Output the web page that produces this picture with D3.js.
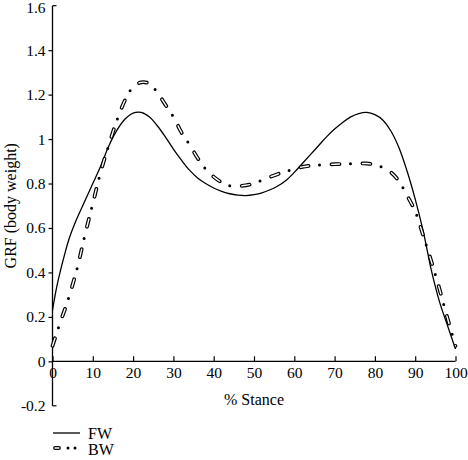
<!DOCTYPE html>
<html>
<head>
<meta charset="utf-8">
<script src="https://cdn.jsdelivr.net/npm/d3@7"></script>
<style>
  body { margin: 0; background: #fff; }
  svg { display: block; }
  text { font-family: "Liberation Serif", "DejaVu Serif", serif; fill: #000; }
</style>
</head>
<body>
<svg id="chart" width="468" height="460"></svg>
<script>
// % stance positions shared by both series
const stance = [0, 1, 2, 3, 4, 6, 8, 10, 12, 14, 16, 18, 20, 22, 24, 26, 28, 30,
  32, 34, 36, 38, 40, 42, 44, 46, 48, 50, 52, 54, 56, 58, 60, 62, 64, 66, 68,
  70, 72, 74, 76, 78, 80, 82, 84, 86, 88, 90, 92, 94, 96, 98, 100];

// forward walking
const fw = [0.23, 0.33, 0.41, 0.48, 0.545, 0.64, 0.72, 0.80, 0.88, 0.97, 1.04,
  1.09, 1.117, 1.12, 1.10, 1.06, 1.01, 0.955, 0.905, 0.86, 0.825, 0.80, 0.78,
  0.765, 0.754, 0.748, 0.746, 0.75, 0.758, 0.772, 0.79, 0.815, 0.85, 0.89,
  0.93, 0.97, 1.01, 1.045, 1.075, 1.10, 1.115, 1.12, 1.11, 1.085, 1.035, 0.96,
  0.855, 0.73, 0.585, 0.41, 0.27, 0.162, 0.055];

// backward walking
const bw = [0.07, 0.125, 0.18, 0.23, 0.285, 0.41, 0.565, 0.71, 0.855, 0.975,
  1.085, 1.175, 1.235, 1.255, 1.25, 1.21, 1.155, 1.10, 1.03, 0.975, 0.915,
  0.865, 0.83, 0.805, 0.79, 0.788, 0.792, 0.80, 0.815, 0.83, 0.843, 0.855,
  0.865, 0.875, 0.88, 0.883, 0.885, 0.887, 0.888, 0.889, 0.89, 0.89, 0.885,
  0.872, 0.85, 0.81, 0.745, 0.675, 0.565, 0.45, 0.327, 0.195, 0.07];

const xTicks = [0, 10, 20, 30, 40, 50, 60, 70, 80, 90, 100];
const yTicks = [-0.2, 0, 0.2, 0.4, 0.6, 0.8, 1, 1.2, 1.4, 1.6];
const legendLabels = ["FW", "BW"];

const svg = d3.select("#chart");

const x = d3.scaleLinear().domain([0, 100]).range([52.5, 455.5]);
const y = d3.scaleLinear().domain([-0.2, 1.6]).range([405.8, 5.7]);

const fmt = d => String(Math.round(d * 10) / 10);
const tickFont = "15.5px";

// y axis
const yAxis = svg.append("g")
  .attr("transform", `translate(${x(0)},0)`)
  .call(d3.axisLeft(y).tickValues(yTicks.filter(d => d > -0.2 && d < 1.6))
    .tickSize(4).tickPadding(3).tickFormat(fmt));
yAxis.select(".domain").remove();
yAxis.selectAll("line").attr("stroke", "#000").attr("stroke-width", 1.2);
yAxis.selectAll("text").style("font-size", tickFont)
  .style("font-family", "Liberation Serif, serif");

// end labels and caps of the y axis
[-0.2, 1.6].forEach(v => {
  svg.append("line")
    .attr("x1", x(0)).attr("x2", x(0) + 4)
    .attr("y1", y(v)).attr("y2", y(v))
    .attr("stroke", "#000").attr("stroke-width", 1.2);
  svg.append("text")
    .attr("x", x(0) - 7).attr("y", y(v)).attr("dy", v > 1 ? "0.5em" : "0.32em")
    .attr("text-anchor", "end")
    .style("font-size", tickFont)
    .text(fmt(v));
});
svg.append("line")
  .attr("x1", x(0)).attr("x2", x(0))
  .attr("y1", y(1.6)).attr("y2", y(-0.2))
  .attr("stroke", "#000").attr("stroke-width", 1.3);

// x axis at y = 0
const xAxis = svg.append("g")
  .attr("transform", `translate(0,${y(0)})`)
  .call(d3.axisBottom(x).tickValues(xTicks).tickSize(-5).tickPadding(6)
    .tickFormat(d => d));
xAxis.select(".domain").attr("stroke", "#000").attr("stroke-width", 1.3)
  .attr("d", `M${x(0)},0H${x(100)}`);
xAxis.selectAll("line").attr("stroke", "#000").attr("stroke-width", 1.2);
xAxis.selectAll("text").style("font-size", tickFont)
  .style("font-family", "Liberation Serif, serif");

// axis titles
svg.append("text")
  .attr("transform", `translate(16,${(y(1.6) + y(-0.2)) / 2}) rotate(-90)`)
  .attr("text-anchor", "middle")
  .style("font-size", "16px")
  .text("GRF (body weight)");

svg.append("text")
  .attr("x", (x(0) + x(100)) / 2)
  .attr("y", 405)
  .attr("text-anchor", "middle")
  .style("font-size", "16px")
  .text("% Stance");

// lines
const line = vals => d3.line()
  .x((d, i) => x(stance[i]))
  .y(d => y(d))
  .curve(d3.curveCatmullRom)(vals);

svg.append("path")
  .attr("d", line(fw))
  .attr("fill", "none")
  .attr("stroke", "#000")
  .attr("stroke-width", 1.3);

// BW: hollow dashes + solid dots
svg.append("path")
  .attr("d", line(bw))
  .attr("fill", "none")
  .attr("stroke", "#000")
  .attr("stroke-width", 3.8)
  .attr("stroke-linecap", "round")
  .attr("stroke-dasharray", "8 23");
svg.append("path")
  .attr("d", line(bw))
  .attr("fill", "none")
  .attr("stroke", "#fff")
  .attr("stroke-width", 1.4)
  .attr("stroke-linecap", "round")
  .attr("stroke-dasharray", "8 23");
svg.append("path")
  .attr("d", line(bw))
  .attr("fill", "none")
  .attr("stroke", "#000")
  .attr("stroke-width", 3)
  .attr("stroke-linecap", "round")
  .attr("stroke-dasharray", "0 31")
  .attr("stroke-dashoffset", 12);

// legend
const leg = svg.append("g");
leg.append("line")
  .attr("x1", 53).attr("x2", 80).attr("y1", 433).attr("y2", 433)
  .attr("stroke", "#000").attr("stroke-width", 1.3);
leg.append("line")
  .attr("x1", 55).attr("x2", 59).attr("y1", 448).attr("y2", 448)
  .attr("stroke", "#000").attr("stroke-width", 3.8).attr("stroke-linecap", "round");
leg.append("line")
  .attr("x1", 55).attr("x2", 59).attr("y1", 448).attr("y2", 448)
  .attr("stroke", "#fff").attr("stroke-width", 1.4).attr("stroke-linecap", "round");
[68, 75].forEach(cx => {
  leg.append("circle").attr("cx", cx).attr("cy", 448).attr("r", 1.5).attr("fill", "#000");
});
leg.selectAll("text.lg")
  .data(legendLabels)
  .enter().append("text")
  .attr("class", "lg")
  .attr("x", 88)
  .attr("y", (d, i) => 438.5 + i * 16)
  .style("font-size", "16px")
  .text(d => d);
</script>
</body>
</html>
